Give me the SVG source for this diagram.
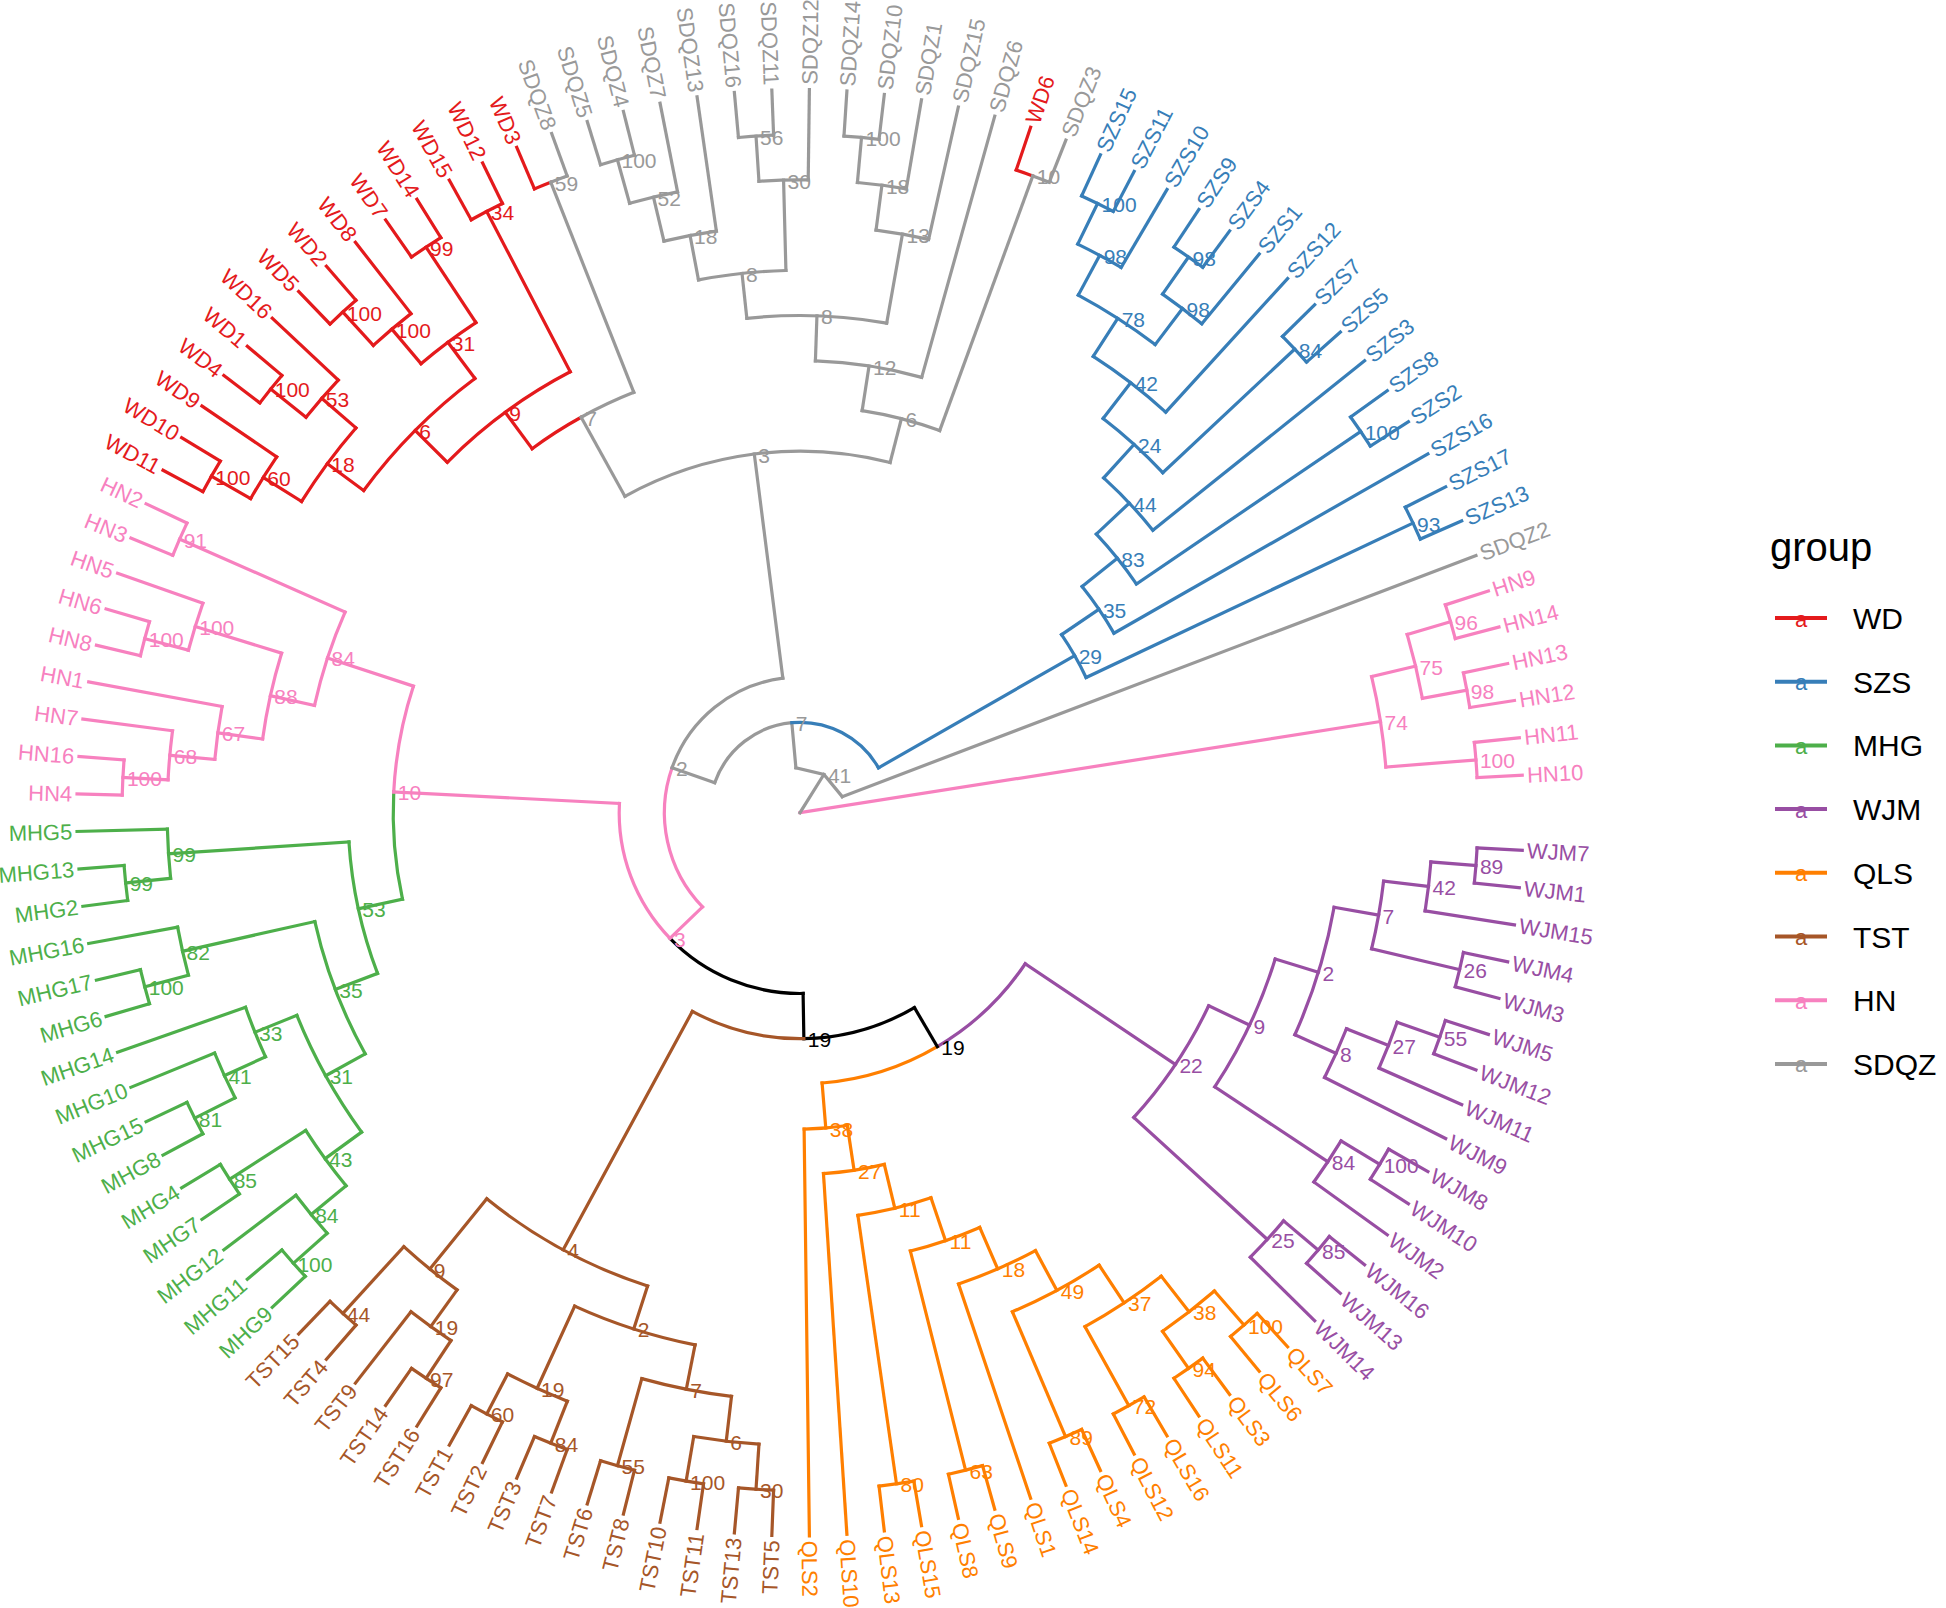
<svg xmlns="http://www.w3.org/2000/svg" width="1946" height="1608" viewBox="0 0 1946 1608">
<style>
.e line,.e circle,.e polyline{fill:none;stroke-width:3.2;stroke-linecap:square;stroke-linejoin:miter}
.r{stroke:#E41A1C}.b{stroke:#377EB8}.g{stroke:#4DAF4A}.p{stroke:#984EA3}.o{stroke:#FF7F00}.t{stroke:#A65628}.h{stroke:#F781BF}.s{stroke:#999999}.k{stroke:#000000}
text{font-family:"Liberation Sans",Arial,Helvetica,sans-serif}
.tl text{font-size:22px}
.nl text{font-size:21px}
.L{text-anchor:end}
.cr{fill:#E41A1C}.cb{fill:#377EB8}.cg{fill:#4DAF4A}.cp{fill:#984EA3}.co{fill:#FF7F00}.ct{fill:#A65628}.ch{fill:#F781BF}.cs{fill:#999999}.ck{fill:#000000}
</style>
<rect width="1946" height="1608" fill="#ffffff"/>
<g id="connectors" class="e" transform="translate(800,812.7)">
<g class="p">
<circle r="678" pathLength="360" stroke-dasharray="2.9752 999" transform="rotate(2.9752)"/>
<circle r="632.8" pathLength="360" stroke-dasharray="4.4628 999" transform="rotate(4.4628)"/>
<circle r="678" pathLength="360" stroke-dasharray="2.9752 999" transform="rotate(11.9008)"/>
<circle r="587.6" pathLength="360" stroke-dasharray="6.6942 999" transform="rotate(6.6942)"/>
<circle r="678" pathLength="360" stroke-dasharray="2.9752 999" transform="rotate(17.8512)"/>
<circle r="632.8" pathLength="360" stroke-dasharray="4.4629 999" transform="rotate(19.3388)"/>
<circle r="587.6" pathLength="360" stroke-dasharray="5.2067 999" transform="rotate(21.5702)"/>
<circle r="542.4" pathLength="360" stroke-dasharray="14.1323 999" transform="rotate(10.0413)"/>
<circle r="678" pathLength="360" stroke-dasharray="2.9752 999" transform="rotate(29.7521)"/>
<circle r="632.8" pathLength="360" stroke-dasharray="4.4628 999" transform="rotate(31.2397)"/>
<circle r="497.2" pathLength="360" stroke-dasharray="16.3637 999" transform="rotate(17.1074)"/>
<circle r="678" pathLength="360" stroke-dasharray="2.9752 999" transform="rotate(38.6777)"/>
<circle r="632.8" pathLength="360" stroke-dasharray="4.4628 999" transform="rotate(40.1653)"/>
<circle r="452" pathLength="360" stroke-dasharray="17.1074 999" transform="rotate(25.2893)"/>
<circle r="271.2" pathLength="360" stroke-dasharray="25.7425 999" transform="rotate(33.8430)"/>
<line x1="678" x2="723.2" transform="rotate(2.9752)"/>
<line x1="678" x2="723.2" transform="rotate(5.9504)"/>
<line x1="632.8" x2="723.2" transform="rotate(8.9256)"/>
<line x1="678" x2="723.2" transform="rotate(11.9008)"/>
<line x1="678" x2="723.2" transform="rotate(14.8760)"/>
<line x1="678" x2="723.2" transform="rotate(17.8512)"/>
<line x1="678" x2="723.2" transform="rotate(20.8264)"/>
<line x1="632.8" x2="723.2" transform="rotate(23.8017)"/>
<line x1="587.6" x2="723.2" transform="rotate(26.7769)"/>
<line x1="678" x2="723.2" transform="rotate(29.7521)"/>
<line x1="678" x2="723.2" transform="rotate(32.7273)"/>
<line x1="632.8" x2="723.2" transform="rotate(35.7025)"/>
<line x1="678" x2="723.2" transform="rotate(38.6777)"/>
<line x1="678" x2="723.2" transform="rotate(41.6529)"/>
<line x1="632.8" x2="723.2" transform="rotate(44.6281)"/>
<line x1="632.8" x2="678" transform="rotate(4.4628)"/>
<line x1="587.6" x2="632.8" transform="rotate(6.6942)"/>
<line x1="587.6" x2="678" transform="rotate(13.3884)"/>
<line x1="542.4" x2="587.6" transform="rotate(10.0413)"/>
<line x1="632.8" x2="678" transform="rotate(19.3388)"/>
<line x1="587.6" x2="632.8" transform="rotate(21.5702)"/>
<line x1="542.4" x2="587.6" transform="rotate(24.1736)"/>
<line x1="497.2" x2="542.4" transform="rotate(17.1074)"/>
<line x1="632.8" x2="678" transform="rotate(31.2397)"/>
<line x1="497.2" x2="632.8" transform="rotate(33.4711)"/>
<line x1="452" x2="497.2" transform="rotate(25.2893)"/>
<line x1="632.8" x2="678" transform="rotate(40.1653)"/>
<line x1="452" x2="632.8" transform="rotate(42.3967)"/>
<line x1="271.2" x2="452" transform="rotate(33.8430)"/>
</g>
<g class="o">
<circle r="678" pathLength="360" stroke-dasharray="2.9752 999" transform="rotate(47.6033)"/>
<circle r="678" pathLength="360" stroke-dasharray="2.9752 999" transform="rotate(53.5537)"/>
<circle r="632.8" pathLength="360" stroke-dasharray="5.9504 999" transform="rotate(49.0909)"/>
<circle r="678" pathLength="360" stroke-dasharray="2.9752 999" transform="rotate(59.5041)"/>
<circle r="587.6" pathLength="360" stroke-dasharray="8.9256 999" transform="rotate(52.0661)"/>
<circle r="678" pathLength="360" stroke-dasharray="2.9753 999" transform="rotate(65.4545)"/>
<circle r="542.4" pathLength="360" stroke-dasharray="10.4132 999" transform="rotate(56.5289)"/>
<circle r="497.2" pathLength="360" stroke-dasharray="9.6695 999" transform="rotate(61.7355)"/>
<circle r="678" pathLength="360" stroke-dasharray="2.9752 999" transform="rotate(74.3802)"/>
<circle r="452" pathLength="360" stroke-dasharray="9.2976 999" transform="rotate(66.5702)"/>
<circle r="678" pathLength="360" stroke-dasharray="2.9752 999" transform="rotate(80.3306)"/>
<circle r="406.8" pathLength="360" stroke-dasharray="10.5991 999" transform="rotate(71.2191)"/>
<circle r="361.6" pathLength="360" stroke-dasharray="9.7624 999" transform="rotate(76.5186)"/>
<circle r="316.4" pathLength="360" stroke-dasharray="7.8564 999" transform="rotate(81.3998)"/>
<circle r="271.2" pathLength="360" stroke-dasharray="25.7425 999" transform="rotate(59.5855)"/>
<line x1="678" x2="723.2" transform="rotate(47.6033)"/>
<line x1="678" x2="723.2" transform="rotate(50.5785)"/>
<line x1="678" x2="723.2" transform="rotate(53.5537)"/>
<line x1="678" x2="723.2" transform="rotate(56.5289)"/>
<line x1="678" x2="723.2" transform="rotate(59.5041)"/>
<line x1="678" x2="723.2" transform="rotate(62.4793)"/>
<line x1="678" x2="723.2" transform="rotate(65.4545)"/>
<line x1="678" x2="723.2" transform="rotate(68.4298)"/>
<line x1="497.2" x2="723.2" transform="rotate(71.4050)"/>
<line x1="678" x2="723.2" transform="rotate(74.3802)"/>
<line x1="678" x2="723.2" transform="rotate(77.3554)"/>
<line x1="678" x2="723.2" transform="rotate(80.3306)"/>
<line x1="678" x2="723.2" transform="rotate(83.3058)"/>
<line x1="361.6" x2="723.2" transform="rotate(86.2810)"/>
<line x1="316.4" x2="723.2" transform="rotate(89.2562)"/>
<line x1="632.8" x2="678" transform="rotate(49.0909)"/>
<line x1="632.8" x2="678" transform="rotate(55.0413)"/>
<line x1="587.6" x2="632.8" transform="rotate(52.0661)"/>
<line x1="587.6" x2="678" transform="rotate(60.9917)"/>
<line x1="542.4" x2="587.6" transform="rotate(56.5289)"/>
<line x1="542.4" x2="678" transform="rotate(66.9421)"/>
<line x1="497.2" x2="542.4" transform="rotate(61.7355)"/>
<line x1="452" x2="497.2" transform="rotate(66.5702)"/>
<line x1="452" x2="678" transform="rotate(75.8678)"/>
<line x1="406.8" x2="452" transform="rotate(71.2191)"/>
<line x1="406.8" x2="678" transform="rotate(81.8182)"/>
<line x1="361.6" x2="406.8" transform="rotate(76.5186)"/>
<line x1="316.4" x2="361.6" transform="rotate(81.3998)"/>
<line x1="271.2" x2="316.4" transform="rotate(85.3280)"/>
</g>
<g class="k">
<line x1="226" x2="271.2" transform="rotate(59.5855)"/>
<circle r="226" pathLength="360" stroke-dasharray="29.4325 999" transform="rotate(59.5855)"/>
<line x1="180.8" x2="226" transform="rotate(89.0180)"/>
<circle r="180.8" pathLength="360" stroke-dasharray="46.9553 999" transform="rotate(89.0180)"/>
</g>
<g class="t">
<circle r="678" pathLength="360" stroke-dasharray="2.9752 999" transform="rotate(92.2314)"/>
<circle r="678" pathLength="360" stroke-dasharray="2.9752 999" transform="rotate(98.1818)"/>
<circle r="632.8" pathLength="360" stroke-dasharray="5.9504 999" transform="rotate(93.7190)"/>
<circle r="678" pathLength="360" stroke-dasharray="2.9752 999" transform="rotate(104.1322)"/>
<circle r="587.6" pathLength="360" stroke-dasharray="8.9256 999" transform="rotate(96.6942)"/>
<circle r="678" pathLength="360" stroke-dasharray="2.9753 999" transform="rotate(110.0826)"/>
<circle r="678" pathLength="360" stroke-dasharray="2.9752 999" transform="rotate(116.0331)"/>
<circle r="632.8" pathLength="360" stroke-dasharray="5.9505 999" transform="rotate(111.5702)"/>
<circle r="542.4" pathLength="360" stroke-dasharray="13.3885 999" transform="rotate(101.1570)"/>
<circle r="678" pathLength="360" stroke-dasharray="2.9752 999" transform="rotate(121.9835)"/>
<circle r="632.8" pathLength="360" stroke-dasharray="4.4628 999" transform="rotate(123.4711)"/>
<circle r="678" pathLength="360" stroke-dasharray="2.9752 999" transform="rotate(130.9091)"/>
<circle r="587.6" pathLength="360" stroke-dasharray="6.6942 999" transform="rotate(125.7025)"/>
<circle r="497.2" pathLength="360" stroke-dasharray="21.1984 999" transform="rotate(107.8512)"/>
<circle r="226" pathLength="360" stroke-dasharray="29.4325 999" transform="rotate(89.0180)"/>
<line x1="678" x2="723.2" transform="rotate(92.2314)"/>
<line x1="678" x2="723.2" transform="rotate(95.2066)"/>
<line x1="678" x2="723.2" transform="rotate(98.1818)"/>
<line x1="678" x2="723.2" transform="rotate(101.1570)"/>
<line x1="678" x2="723.2" transform="rotate(104.1322)"/>
<line x1="678" x2="723.2" transform="rotate(107.1074)"/>
<line x1="678" x2="723.2" transform="rotate(110.0826)"/>
<line x1="678" x2="723.2" transform="rotate(113.0579)"/>
<line x1="678" x2="723.2" transform="rotate(116.0331)"/>
<line x1="678" x2="723.2" transform="rotate(119.0083)"/>
<line x1="678" x2="723.2" transform="rotate(121.9835)"/>
<line x1="678" x2="723.2" transform="rotate(124.9587)"/>
<line x1="632.8" x2="723.2" transform="rotate(127.9339)"/>
<line x1="678" x2="723.2" transform="rotate(130.9091)"/>
<line x1="678" x2="723.2" transform="rotate(133.8843)"/>
<line x1="632.8" x2="678" transform="rotate(93.7190)"/>
<line x1="632.8" x2="678" transform="rotate(99.6694)"/>
<line x1="587.6" x2="632.8" transform="rotate(96.6942)"/>
<line x1="587.6" x2="678" transform="rotate(105.6198)"/>
<line x1="542.4" x2="587.6" transform="rotate(101.1570)"/>
<line x1="632.8" x2="678" transform="rotate(111.5702)"/>
<line x1="632.8" x2="678" transform="rotate(117.5207)"/>
<line x1="542.4" x2="632.8" transform="rotate(114.5455)"/>
<line x1="497.2" x2="542.4" transform="rotate(107.8512)"/>
<line x1="632.8" x2="678" transform="rotate(123.4711)"/>
<line x1="587.6" x2="632.8" transform="rotate(125.7025)"/>
<line x1="587.6" x2="678" transform="rotate(132.3967)"/>
<line x1="497.2" x2="587.6" transform="rotate(129.0496)"/>
<line x1="226" x2="497.2" transform="rotate(118.4505)"/>
</g>
<g class="g">
<circle r="678" pathLength="360" stroke-dasharray="2.9752 999" transform="rotate(136.8595)"/>
<circle r="632.8" pathLength="360" stroke-dasharray="4.4628 999" transform="rotate(138.3471)"/>
<circle r="678" pathLength="360" stroke-dasharray="2.9752 999" transform="rotate(145.7851)"/>
<circle r="587.6" pathLength="360" stroke-dasharray="6.6942 999" transform="rotate(140.5785)"/>
<circle r="678" pathLength="360" stroke-dasharray="2.9752 999" transform="rotate(151.7355)"/>
<circle r="632.8" pathLength="360" stroke-dasharray="4.4629 999" transform="rotate(153.2231)"/>
<circle r="587.6" pathLength="360" stroke-dasharray="5.2067 999" transform="rotate(155.4545)"/>
<circle r="542.4" pathLength="360" stroke-dasharray="14.1323 999" transform="rotate(143.9256)"/>
<circle r="678" pathLength="360" stroke-dasharray="2.9752 999" transform="rotate(163.6364)"/>
<circle r="632.8" pathLength="360" stroke-dasharray="4.4628 999" transform="rotate(165.1240)"/>
<circle r="497.2" pathLength="360" stroke-dasharray="16.3637 999" transform="rotate(150.9917)"/>
<circle r="678" pathLength="360" stroke-dasharray="2.9752 999" transform="rotate(172.5620)"/>
<circle r="632.8" pathLength="360" stroke-dasharray="4.4628 999" transform="rotate(174.0496)"/>
<circle r="452" pathLength="360" stroke-dasharray="17.1074 999" transform="rotate(159.1736)"/>
<circle r="406.8" pathLength="360" stroke-dasharray="15.2014 999" transform="rotate(167.7273)"/>
<line x1="678" x2="723.2" transform="rotate(136.8595)"/>
<line x1="678" x2="723.2" transform="rotate(139.8347)"/>
<line x1="632.8" x2="723.2" transform="rotate(142.8099)"/>
<line x1="678" x2="723.2" transform="rotate(145.7851)"/>
<line x1="678" x2="723.2" transform="rotate(148.7603)"/>
<line x1="678" x2="723.2" transform="rotate(151.7355)"/>
<line x1="678" x2="723.2" transform="rotate(154.7107)"/>
<line x1="632.8" x2="723.2" transform="rotate(157.6860)"/>
<line x1="587.6" x2="723.2" transform="rotate(160.6612)"/>
<line x1="678" x2="723.2" transform="rotate(163.6364)"/>
<line x1="678" x2="723.2" transform="rotate(166.6116)"/>
<line x1="632.8" x2="723.2" transform="rotate(169.5868)"/>
<line x1="678" x2="723.2" transform="rotate(172.5620)"/>
<line x1="678" x2="723.2" transform="rotate(175.5372)"/>
<line x1="632.8" x2="723.2" transform="rotate(178.5124)"/>
<line x1="632.8" x2="678" transform="rotate(138.3471)"/>
<line x1="587.6" x2="632.8" transform="rotate(140.5785)"/>
<line x1="587.6" x2="678" transform="rotate(147.2727)"/>
<line x1="542.4" x2="587.6" transform="rotate(143.9256)"/>
<line x1="632.8" x2="678" transform="rotate(153.2231)"/>
<line x1="587.6" x2="632.8" transform="rotate(155.4545)"/>
<line x1="542.4" x2="587.6" transform="rotate(158.0579)"/>
<line x1="497.2" x2="542.4" transform="rotate(150.9917)"/>
<line x1="632.8" x2="678" transform="rotate(165.1240)"/>
<line x1="497.2" x2="632.8" transform="rotate(167.3554)"/>
<line x1="452" x2="497.2" transform="rotate(159.1736)"/>
<line x1="632.8" x2="678" transform="rotate(174.0496)"/>
<line x1="452" x2="632.8" transform="rotate(176.2810)"/>
<line x1="406.8" x2="452" transform="rotate(167.7273)"/>
</g>
<g class="h">
<circle r="678" pathLength="360" stroke-dasharray="2.9752 999" transform="rotate(181.4876)"/>
<circle r="632.8" pathLength="360" stroke-dasharray="4.4628 999" transform="rotate(182.9752)"/>
<circle r="587.6" pathLength="360" stroke-dasharray="5.2066 999" transform="rotate(185.2066)"/>
<circle r="678" pathLength="360" stroke-dasharray="2.9752 999" transform="rotate(193.3884)"/>
<circle r="632.8" pathLength="360" stroke-dasharray="4.4628 999" transform="rotate(194.8760)"/>
<circle r="542.4" pathLength="360" stroke-dasharray="9.2975 999" transform="rotate(187.8099)"/>
<circle r="678" pathLength="360" stroke-dasharray="2.9753 999" transform="rotate(202.3140)"/>
<circle r="497.2" pathLength="360" stroke-dasharray="11.3430 999" transform="rotate(192.4587)"/>
<circle r="406.8" pathLength="360" stroke-dasharray="15.2014 999" transform="rotate(182.9287)"/>
<circle r="180.8" pathLength="360" stroke-dasharray="46.9554 999" transform="rotate(135.9733)"/>
<circle r="135.6" pathLength="360" stroke-dasharray="63.3815 999" transform="rotate(135.9733)"/>
<circle r="678" pathLength="360" stroke-dasharray="2.9752 999" transform="rotate(342.1488)"/>
<circle r="678" pathLength="360" stroke-dasharray="2.9752 999" transform="rotate(348.0992)"/>
<circle r="632.8" pathLength="360" stroke-dasharray="5.9504 999" transform="rotate(343.6364)"/>
<circle r="678" pathLength="360" stroke-dasharray="2.9752 999" transform="rotate(354.0496)"/>
<circle r="587.6" pathLength="360" stroke-dasharray="8.9256 999" transform="rotate(346.6116)"/>
<line x1="678" x2="723.2" transform="rotate(181.4876)"/>
<line x1="678" x2="723.2" transform="rotate(184.4628)"/>
<line x1="632.8" x2="723.2" transform="rotate(187.4380)"/>
<line x1="587.6" x2="723.2" transform="rotate(190.4132)"/>
<line x1="678" x2="723.2" transform="rotate(193.3884)"/>
<line x1="678" x2="723.2" transform="rotate(196.3636)"/>
<line x1="632.8" x2="723.2" transform="rotate(199.3388)"/>
<line x1="678" x2="723.2" transform="rotate(202.3140)"/>
<line x1="678" x2="723.2" transform="rotate(205.2893)"/>
<line x1="678" x2="723.2" transform="rotate(342.1488)"/>
<line x1="678" x2="723.2" transform="rotate(345.1240)"/>
<line x1="678" x2="723.2" transform="rotate(348.0992)"/>
<line x1="678" x2="723.2" transform="rotate(351.0744)"/>
<line x1="678" x2="723.2" transform="rotate(354.0496)"/>
<line x1="678" x2="723.2" transform="rotate(357.0248)"/>
<line x1="632.8" x2="678" transform="rotate(182.9752)"/>
<line x1="587.6" x2="632.8" transform="rotate(185.2066)"/>
<line x1="542.4" x2="587.6" transform="rotate(187.8099)"/>
<line x1="632.8" x2="678" transform="rotate(194.8760)"/>
<line x1="542.4" x2="632.8" transform="rotate(197.1074)"/>
<line x1="497.2" x2="542.4" transform="rotate(192.4587)"/>
<line x1="497.2" x2="678" transform="rotate(203.8017)"/>
<line x1="406.8" x2="497.2" transform="rotate(198.1301)"/>
<line x1="180.8" x2="406.8" transform="rotate(182.9287)"/>
<line x1="135.6" x2="180.8" transform="rotate(135.9733)"/>
<line x1="632.8" x2="678" transform="rotate(343.6364)"/>
<line x1="632.8" x2="678" transform="rotate(349.5868)"/>
<line x1="587.6" x2="632.8" transform="rotate(346.6116)"/>
<line x1="587.6" x2="678" transform="rotate(355.5372)"/>
<line x1="0" x2="587.6" transform="rotate(351.0744)"/>
</g>
<g class="r">
<circle r="678" pathLength="360" stroke-dasharray="2.9752 999" transform="rotate(208.2645)"/>
<circle r="632.8" pathLength="360" stroke-dasharray="4.4628 999" transform="rotate(209.7521)"/>
<circle r="678" pathLength="360" stroke-dasharray="2.9752 999" transform="rotate(217.1901)"/>
<circle r="632.8" pathLength="360" stroke-dasharray="4.4628 999" transform="rotate(218.6777)"/>
<circle r="587.6" pathLength="360" stroke-dasharray="8.9256 999" transform="rotate(211.9835)"/>
<circle r="678" pathLength="360" stroke-dasharray="2.9752 999" transform="rotate(226.1157)"/>
<circle r="632.8" pathLength="360" stroke-dasharray="4.4628 999" transform="rotate(227.6033)"/>
<circle r="678" pathLength="360" stroke-dasharray="2.9752 999" transform="rotate(235.0413)"/>
<circle r="587.6" pathLength="360" stroke-dasharray="6.6942 999" transform="rotate(229.8347)"/>
<circle r="542.4" pathLength="360" stroke-dasharray="16.7355 999" transform="rotate(216.4463)"/>
<circle r="678" pathLength="360" stroke-dasharray="2.9752 999" transform="rotate(240.9917)"/>
<circle r="497.2" pathLength="360" stroke-dasharray="17.6652 999" transform="rotate(224.8141)"/>
<circle r="678" pathLength="360" stroke-dasharray="1.4877 999" transform="rotate(246.9421)"/>
<circle r="452" pathLength="360" stroke-dasharray="7.3915 999" transform="rotate(233.6467)"/>
<circle r="678" pathLength="360" stroke-dasharray="1.4876 999" transform="rotate(288.5950)"/>
<line x1="678" x2="723.2" transform="rotate(208.2645)"/>
<line x1="678" x2="723.2" transform="rotate(211.2397)"/>
<line x1="632.8" x2="723.2" transform="rotate(214.2149)"/>
<line x1="678" x2="723.2" transform="rotate(217.1901)"/>
<line x1="678" x2="723.2" transform="rotate(220.1653)"/>
<line x1="632.8" x2="723.2" transform="rotate(223.1405)"/>
<line x1="678" x2="723.2" transform="rotate(226.1157)"/>
<line x1="678" x2="723.2" transform="rotate(229.0909)"/>
<line x1="632.8" x2="723.2" transform="rotate(232.0661)"/>
<line x1="678" x2="723.2" transform="rotate(235.0413)"/>
<line x1="678" x2="723.2" transform="rotate(238.0165)"/>
<line x1="678" x2="723.2" transform="rotate(240.9917)"/>
<line x1="678" x2="723.2" transform="rotate(243.9669)"/>
<line x1="678" x2="723.2" transform="rotate(246.9421)"/>
<line x1="678" x2="723.2" transform="rotate(288.5950)"/>
<line x1="632.8" x2="678" transform="rotate(209.7521)"/>
<line x1="587.6" x2="632.8" transform="rotate(211.9835)"/>
<line x1="632.8" x2="678" transform="rotate(218.6777)"/>
<line x1="587.6" x2="632.8" transform="rotate(220.9091)"/>
<line x1="542.4" x2="587.6" transform="rotate(216.4463)"/>
<line x1="632.8" x2="678" transform="rotate(227.6033)"/>
<line x1="587.6" x2="632.8" transform="rotate(229.8347)"/>
<line x1="587.6" x2="678" transform="rotate(236.5289)"/>
<line x1="542.4" x2="587.6" transform="rotate(233.1818)"/>
<line x1="497.2" x2="542.4" transform="rotate(224.8141)"/>
<line x1="497.2" x2="678" transform="rotate(242.4793)"/>
<line x1="452" x2="497.2" transform="rotate(233.6467)"/>
</g>
<g class="s">
<circle r="678" pathLength="360" stroke-dasharray="1.4876 999" transform="rotate(248.4298)"/>
<circle r="452" pathLength="360" stroke-dasharray="7.3916 999" transform="rotate(241.0382)"/>
<circle r="678" pathLength="360" stroke-dasharray="2.9752 999" transform="rotate(252.8926)"/>
<circle r="632.8" pathLength="360" stroke-dasharray="4.4628 999" transform="rotate(254.3802)"/>
<circle r="587.6" pathLength="360" stroke-dasharray="5.2066 999" transform="rotate(256.6116)"/>
<circle r="678" pathLength="360" stroke-dasharray="2.9752 999" transform="rotate(264.7934)"/>
<circle r="632.8" pathLength="360" stroke-dasharray="4.4628 999" transform="rotate(266.2810)"/>
<circle r="542.4" pathLength="360" stroke-dasharray="9.2975 999" transform="rotate(259.2149)"/>
<circle r="678" pathLength="360" stroke-dasharray="2.9752 999" transform="rotate(273.7190)"/>
<circle r="632.8" pathLength="360" stroke-dasharray="4.4628 999" transform="rotate(275.2066)"/>
<circle r="587.6" pathLength="360" stroke-dasharray="5.2066 999" transform="rotate(277.4380)"/>
<circle r="497.2" pathLength="360" stroke-dasharray="16.1776 999" transform="rotate(263.8637)"/>
<circle r="452" pathLength="360" stroke-dasharray="13.6673 999" transform="rotate(271.9525)"/>
<circle r="678" pathLength="360" stroke-dasharray="1.4876 999" transform="rotate(290.0826)"/>
<circle r="406.8" pathLength="360" stroke-dasharray="11.2964 999" transform="rotate(278.7862)"/>
<circle r="361.6" pathLength="360" stroke-dasharray="43.3962 999" transform="rotate(241.0382)"/>
<circle r="135.6" pathLength="360" stroke-dasharray="63.3815 999" transform="rotate(199.3548)"/>
<circle r="90.4" pathLength="360" stroke-dasharray="65.4408 999" transform="rotate(199.3548)"/>
<polyline points="-4.10,-45.01 23.94,-38.34 42.25,-16.07"/>
<line x1="678" x2="723.2" transform="rotate(249.9174)"/>
<line x1="678" x2="723.2" transform="rotate(252.8926)"/>
<line x1="678" x2="723.2" transform="rotate(255.8678)"/>
<line x1="632.8" x2="723.2" transform="rotate(258.8430)"/>
<line x1="587.6" x2="723.2" transform="rotate(261.8182)"/>
<line x1="678" x2="723.2" transform="rotate(264.7934)"/>
<line x1="678" x2="723.2" transform="rotate(267.7686)"/>
<line x1="632.8" x2="723.2" transform="rotate(270.7438)"/>
<line x1="678" x2="723.2" transform="rotate(273.7190)"/>
<line x1="678" x2="723.2" transform="rotate(276.6942)"/>
<line x1="632.8" x2="723.2" transform="rotate(279.6694)"/>
<line x1="587.6" x2="723.2" transform="rotate(282.6446)"/>
<line x1="452" x2="723.2" transform="rotate(285.6198)"/>
<line x1="678" x2="723.2" transform="rotate(291.5702)"/>
<line x1="45.2" x2="723.2" transform="rotate(339.1736)"/>
<line x1="452" x2="678" transform="rotate(248.4298)"/>
<line x1="361.6" x2="452" transform="rotate(241.0382)"/>
<line x1="632.8" x2="678" transform="rotate(254.3802)"/>
<line x1="587.6" x2="632.8" transform="rotate(256.6116)"/>
<line x1="542.4" x2="587.6" transform="rotate(259.2149)"/>
<line x1="632.8" x2="678" transform="rotate(266.2810)"/>
<line x1="542.4" x2="632.8" transform="rotate(268.5124)"/>
<line x1="497.2" x2="542.4" transform="rotate(263.8637)"/>
<line x1="632.8" x2="678" transform="rotate(275.2066)"/>
<line x1="587.6" x2="632.8" transform="rotate(277.4380)"/>
<line x1="497.2" x2="587.6" transform="rotate(280.0413)"/>
<line x1="452" x2="497.2" transform="rotate(271.9525)"/>
<line x1="406.8" x2="452" transform="rotate(278.7862)"/>
<line x1="406.8" x2="678" transform="rotate(290.0826)"/>
<line x1="361.6" x2="406.8" transform="rotate(284.4344)"/>
<line x1="135.6" x2="361.6" transform="rotate(262.7363)"/>
<line x1="90.4" x2="135.6" transform="rotate(199.3548)"/>
<line x1="45.2" x2="90.4" transform="rotate(264.7956)"/>
<line x1="0" x2="45.2" transform="rotate(301.9846)"/>
</g>
<g class="b">
<circle r="678" pathLength="360" stroke-dasharray="2.9752 999" transform="rotate(294.5455)"/>
<circle r="632.8" pathLength="360" stroke-dasharray="4.4628 999" transform="rotate(296.0331)"/>
<circle r="678" pathLength="360" stroke-dasharray="2.9752 999" transform="rotate(303.4711)"/>
<circle r="632.8" pathLength="360" stroke-dasharray="4.4628 999" transform="rotate(304.9587)"/>
<circle r="587.6" pathLength="360" stroke-dasharray="8.9256 999" transform="rotate(298.2645)"/>
<circle r="542.4" pathLength="360" stroke-dasharray="9.6694 999" transform="rotate(302.7273)"/>
<circle r="678" pathLength="360" stroke-dasharray="2.9752 999" transform="rotate(315.3719)"/>
<circle r="497.2" pathLength="360" stroke-dasharray="9.2975 999" transform="rotate(307.5620)"/>
<circle r="452" pathLength="360" stroke-dasharray="9.1115 999" transform="rotate(312.2108)"/>
<circle r="678" pathLength="360" stroke-dasharray="2.9752 999" transform="rotate(324.2975)"/>
<circle r="406.8" pathLength="360" stroke-dasharray="9.0186 999" transform="rotate(316.7665)"/>
<circle r="361.6" pathLength="360" stroke-dasharray="8.9721 999" transform="rotate(321.2758)"/>
<circle r="678" pathLength="360" stroke-dasharray="2.9752 999" transform="rotate(333.2231)"/>
<circle r="316.4" pathLength="360" stroke-dasharray="8.9488 999" transform="rotate(325.7619)"/>
<circle r="90.4" pathLength="360" stroke-dasharray="65.4407 999" transform="rotate(264.7956)"/>
<line x1="678" x2="723.2" transform="rotate(294.5455)"/>
<line x1="678" x2="723.2" transform="rotate(297.5207)"/>
<line x1="632.8" x2="723.2" transform="rotate(300.4959)"/>
<line x1="678" x2="723.2" transform="rotate(303.4711)"/>
<line x1="678" x2="723.2" transform="rotate(306.4463)"/>
<line x1="632.8" x2="723.2" transform="rotate(309.4215)"/>
<line x1="542.4" x2="723.2" transform="rotate(312.3967)"/>
<line x1="678" x2="723.2" transform="rotate(315.3719)"/>
<line x1="678" x2="723.2" transform="rotate(318.3471)"/>
<line x1="452" x2="723.2" transform="rotate(321.3223)"/>
<line x1="678" x2="723.2" transform="rotate(324.2975)"/>
<line x1="678" x2="723.2" transform="rotate(327.2727)"/>
<line x1="361.6" x2="723.2" transform="rotate(330.2479)"/>
<line x1="678" x2="723.2" transform="rotate(333.2231)"/>
<line x1="678" x2="723.2" transform="rotate(336.1983)"/>
<line x1="632.8" x2="678" transform="rotate(296.0331)"/>
<line x1="587.6" x2="632.8" transform="rotate(298.2645)"/>
<line x1="632.8" x2="678" transform="rotate(304.9587)"/>
<line x1="587.6" x2="632.8" transform="rotate(307.1901)"/>
<line x1="542.4" x2="587.6" transform="rotate(302.7273)"/>
<line x1="497.2" x2="542.4" transform="rotate(307.5620)"/>
<line x1="497.2" x2="678" transform="rotate(316.8595)"/>
<line x1="452" x2="497.2" transform="rotate(312.2108)"/>
<line x1="406.8" x2="452" transform="rotate(316.7665)"/>
<line x1="406.8" x2="678" transform="rotate(325.7851)"/>
<line x1="361.6" x2="406.8" transform="rotate(321.2758)"/>
<line x1="316.4" x2="361.6" transform="rotate(325.7619)"/>
<line x1="316.4" x2="678" transform="rotate(334.7107)"/>
<line x1="90.4" x2="316.4" transform="rotate(330.2363)"/>
</g>
</g>
<g class="tl" transform="translate(800,812.7)">
<g id="tip_WJM7"><text class="cp" transform="rotate(2.9752)" x="728" y="7.8">WJM7</text></g>
<g id="tip_WJM1"><text class="cp" transform="rotate(5.9504)" x="728" y="7.8">WJM1</text></g>
<g id="tip_WJM15"><text class="cp" transform="rotate(8.9256)" x="728" y="7.8">WJM15</text></g>
<g id="tip_WJM4"><text class="cp" transform="rotate(11.9008)" x="728" y="7.8">WJM4</text></g>
<g id="tip_WJM3"><text class="cp" transform="rotate(14.8760)" x="728" y="7.8">WJM3</text></g>
<g id="tip_WJM5"><text class="cp" transform="rotate(17.8512)" x="728" y="7.8">WJM5</text></g>
<g id="tip_WJM12"><text class="cp" transform="rotate(20.8264)" x="728" y="7.8">WJM12</text></g>
<g id="tip_WJM11"><text class="cp" transform="rotate(23.8017)" x="728" y="7.8">WJM11</text></g>
<g id="tip_WJM9"><text class="cp" transform="rotate(26.7769)" x="728" y="7.8">WJM9</text></g>
<g id="tip_WJM8"><text class="cp" transform="rotate(29.7521)" x="728" y="7.8">WJM8</text></g>
<g id="tip_WJM10"><text class="cp" transform="rotate(32.7273)" x="728" y="7.8">WJM10</text></g>
<g id="tip_WJM2"><text class="cp" transform="rotate(35.7025)" x="728" y="7.8">WJM2</text></g>
<g id="tip_WJM16"><text class="cp" transform="rotate(38.6777)" x="728" y="7.8">WJM16</text></g>
<g id="tip_WJM13"><text class="cp" transform="rotate(41.6529)" x="728" y="7.8">WJM13</text></g>
<g id="tip_WJM14"><text class="cp" transform="rotate(44.6281)" x="728" y="7.8">WJM14</text></g>
<g id="tip_QLS7"><text class="co" transform="rotate(47.6033)" x="728" y="7.8">QLS7</text></g>
<g id="tip_QLS6"><text class="co" transform="rotate(50.5785)" x="728" y="7.8">QLS6</text></g>
<g id="tip_QLS3"><text class="co" transform="rotate(53.5537)" x="728" y="7.8">QLS3</text></g>
<g id="tip_QLS11"><text class="co" transform="rotate(56.5289)" x="728" y="7.8">QLS11</text></g>
<g id="tip_QLS16"><text class="co" transform="rotate(59.5041)" x="728" y="7.8">QLS16</text></g>
<g id="tip_QLS12"><text class="co" transform="rotate(62.4793)" x="728" y="7.8">QLS12</text></g>
<g id="tip_QLS4"><text class="co" transform="rotate(65.4545)" x="728" y="7.8">QLS4</text></g>
<g id="tip_QLS14"><text class="co" transform="rotate(68.4298)" x="728" y="7.8">QLS14</text></g>
<g id="tip_QLS1"><text class="co" transform="rotate(71.4050)" x="728" y="7.8">QLS1</text></g>
<g id="tip_QLS9"><text class="co" transform="rotate(74.3802)" x="728" y="7.8">QLS9</text></g>
<g id="tip_QLS8"><text class="co" transform="rotate(77.3554)" x="728" y="7.8">QLS8</text></g>
<g id="tip_QLS15"><text class="co" transform="rotate(80.3306)" x="728" y="7.8">QLS15</text></g>
<g id="tip_QLS13"><text class="co" transform="rotate(83.3058)" x="728" y="7.8">QLS13</text></g>
<g id="tip_QLS10"><text class="co" transform="rotate(86.2810)" x="728" y="7.8">QLS10</text></g>
<g id="tip_QLS2"><text class="co" transform="rotate(89.2562)" x="728" y="7.8">QLS2</text></g>
<g id="tip_TST5"><text class="ct L" transform="rotate(-87.7686)" x="-728" y="7.8">TST5</text></g>
<g id="tip_TST13"><text class="ct L" transform="rotate(-84.7934)" x="-728" y="7.8">TST13</text></g>
<g id="tip_TST11"><text class="ct L" transform="rotate(-81.8182)" x="-728" y="7.8">TST11</text></g>
<g id="tip_TST10"><text class="ct L" transform="rotate(-78.8430)" x="-728" y="7.8">TST10</text></g>
<g id="tip_TST8"><text class="ct L" transform="rotate(-75.8678)" x="-728" y="7.8">TST8</text></g>
<g id="tip_TST6"><text class="ct L" transform="rotate(-72.8926)" x="-728" y="7.8">TST6</text></g>
<g id="tip_TST7"><text class="ct L" transform="rotate(-69.9174)" x="-728" y="7.8">TST7</text></g>
<g id="tip_TST3"><text class="ct L" transform="rotate(-66.9421)" x="-728" y="7.8">TST3</text></g>
<g id="tip_TST2"><text class="ct L" transform="rotate(-63.9669)" x="-728" y="7.8">TST2</text></g>
<g id="tip_TST1"><text class="ct L" transform="rotate(-60.9917)" x="-728" y="7.8">TST1</text></g>
<g id="tip_TST16"><text class="ct L" transform="rotate(-58.0165)" x="-728" y="7.8">TST16</text></g>
<g id="tip_TST14"><text class="ct L" transform="rotate(-55.0413)" x="-728" y="7.8">TST14</text></g>
<g id="tip_TST9"><text class="ct L" transform="rotate(-52.0661)" x="-728" y="7.8">TST9</text></g>
<g id="tip_TST4"><text class="ct L" transform="rotate(-49.0909)" x="-728" y="7.8">TST4</text></g>
<g id="tip_TST15"><text class="ct L" transform="rotate(-46.1157)" x="-728" y="7.8">TST15</text></g>
<g id="tip_MHG9"><text class="cg L" transform="rotate(-43.1405)" x="-728" y="7.8">MHG9</text></g>
<g id="tip_MHG11"><text class="cg L" transform="rotate(-40.1653)" x="-728" y="7.8">MHG11</text></g>
<g id="tip_MHG12"><text class="cg L" transform="rotate(-37.1901)" x="-728" y="7.8">MHG12</text></g>
<g id="tip_MHG7"><text class="cg L" transform="rotate(-34.2149)" x="-728" y="7.8">MHG7</text></g>
<g id="tip_MHG4"><text class="cg L" transform="rotate(-31.2397)" x="-728" y="7.8">MHG4</text></g>
<g id="tip_MHG8"><text class="cg L" transform="rotate(-28.2645)" x="-728" y="7.8">MHG8</text></g>
<g id="tip_MHG15"><text class="cg L" transform="rotate(-25.2893)" x="-728" y="7.8">MHG15</text></g>
<g id="tip_MHG10"><text class="cg L" transform="rotate(-22.3140)" x="-728" y="7.8">MHG10</text></g>
<g id="tip_MHG14"><text class="cg L" transform="rotate(-19.3388)" x="-728" y="7.8">MHG14</text></g>
<g id="tip_MHG6"><text class="cg L" transform="rotate(-16.3636)" x="-728" y="7.8">MHG6</text></g>
<g id="tip_MHG17"><text class="cg L" transform="rotate(-13.3884)" x="-728" y="7.8">MHG17</text></g>
<g id="tip_MHG16"><text class="cg L" transform="rotate(-10.4132)" x="-728" y="7.8">MHG16</text></g>
<g id="tip_MHG2"><text class="cg L" transform="rotate(-7.4380)" x="-728" y="7.8">MHG2</text></g>
<g id="tip_MHG13"><text class="cg L" transform="rotate(-4.4628)" x="-728" y="7.8">MHG13</text></g>
<g id="tip_MHG5"><text class="cg L" transform="rotate(-1.4876)" x="-728" y="7.8">MHG5</text></g>
<g id="tip_HN4"><text class="ch L" transform="rotate(1.4876)" x="-728" y="7.8">HN4</text></g>
<g id="tip_HN16"><text class="ch L" transform="rotate(4.4628)" x="-728" y="7.8">HN16</text></g>
<g id="tip_HN7"><text class="ch L" transform="rotate(7.4380)" x="-728" y="7.8">HN7</text></g>
<g id="tip_HN1"><text class="ch L" transform="rotate(10.4132)" x="-728" y="7.8">HN1</text></g>
<g id="tip_HN8"><text class="ch L" transform="rotate(13.3884)" x="-728" y="7.8">HN8</text></g>
<g id="tip_HN6"><text class="ch L" transform="rotate(16.3636)" x="-728" y="7.8">HN6</text></g>
<g id="tip_HN5"><text class="ch L" transform="rotate(19.3388)" x="-728" y="7.8">HN5</text></g>
<g id="tip_HN3"><text class="ch L" transform="rotate(22.3140)" x="-728" y="7.8">HN3</text></g>
<g id="tip_HN2"><text class="ch L" transform="rotate(25.2893)" x="-728" y="7.8">HN2</text></g>
<g id="tip_WD11"><text class="cr L" transform="rotate(28.2645)" x="-728" y="7.8">WD11</text></g>
<g id="tip_WD10"><text class="cr L" transform="rotate(31.2397)" x="-728" y="7.8">WD10</text></g>
<g id="tip_WD9"><text class="cr L" transform="rotate(34.2149)" x="-728" y="7.8">WD9</text></g>
<g id="tip_WD4"><text class="cr L" transform="rotate(37.1901)" x="-728" y="7.8">WD4</text></g>
<g id="tip_WD1"><text class="cr L" transform="rotate(40.1653)" x="-728" y="7.8">WD1</text></g>
<g id="tip_WD16"><text class="cr L" transform="rotate(43.1405)" x="-728" y="7.8">WD16</text></g>
<g id="tip_WD5"><text class="cr L" transform="rotate(46.1157)" x="-728" y="7.8">WD5</text></g>
<g id="tip_WD2"><text class="cr L" transform="rotate(49.0909)" x="-728" y="7.8">WD2</text></g>
<g id="tip_WD8"><text class="cr L" transform="rotate(52.0661)" x="-728" y="7.8">WD8</text></g>
<g id="tip_WD7"><text class="cr L" transform="rotate(55.0413)" x="-728" y="7.8">WD7</text></g>
<g id="tip_WD14"><text class="cr L" transform="rotate(58.0165)" x="-728" y="7.8">WD14</text></g>
<g id="tip_WD15"><text class="cr L" transform="rotate(60.9917)" x="-728" y="7.8">WD15</text></g>
<g id="tip_WD12"><text class="cr L" transform="rotate(63.9669)" x="-728" y="7.8">WD12</text></g>
<g id="tip_WD3"><text class="cr L" transform="rotate(66.9421)" x="-728" y="7.8">WD3</text></g>
<g id="tip_SDQZ8"><text class="cs L" transform="rotate(69.9174)" x="-728" y="7.8">SDQZ8</text></g>
<g id="tip_SDQZ5"><text class="cs L" transform="rotate(72.8926)" x="-728" y="7.8">SDQZ5</text></g>
<g id="tip_SDQZ4"><text class="cs L" transform="rotate(75.8678)" x="-728" y="7.8">SDQZ4</text></g>
<g id="tip_SDQZ7"><text class="cs L" transform="rotate(78.8430)" x="-728" y="7.8">SDQZ7</text></g>
<g id="tip_SDQZ13"><text class="cs L" transform="rotate(81.8182)" x="-728" y="7.8">SDQZ13</text></g>
<g id="tip_SDQZ16"><text class="cs L" transform="rotate(84.7934)" x="-728" y="7.8">SDQZ16</text></g>
<g id="tip_SDQZ11"><text class="cs L" transform="rotate(87.7686)" x="-728" y="7.8">SDQZ11</text></g>
<g id="tip_SDQZ12"><text class="cs" transform="rotate(270.7438)" x="728" y="7.8">SDQZ12</text></g>
<g id="tip_SDQZ14"><text class="cs" transform="rotate(273.7190)" x="728" y="7.8">SDQZ14</text></g>
<g id="tip_SDQZ10"><text class="cs" transform="rotate(276.6942)" x="728" y="7.8">SDQZ10</text></g>
<g id="tip_SDQZ1"><text class="cs" transform="rotate(279.6694)" x="728" y="7.8">SDQZ1</text></g>
<g id="tip_SDQZ15"><text class="cs" transform="rotate(282.6446)" x="728" y="7.8">SDQZ15</text></g>
<g id="tip_SDQZ6"><text class="cs" transform="rotate(285.6198)" x="728" y="7.8">SDQZ6</text></g>
<g id="tip_WD6"><text class="cr" transform="rotate(288.5950)" x="728" y="7.8">WD6</text></g>
<g id="tip_SDQZ3"><text class="cs" transform="rotate(291.5702)" x="728" y="7.8">SDQZ3</text></g>
<g id="tip_SZS15"><text class="cb" transform="rotate(294.5455)" x="728" y="7.8">SZS15</text></g>
<g id="tip_SZS11"><text class="cb" transform="rotate(297.5207)" x="728" y="7.8">SZS11</text></g>
<g id="tip_SZS10"><text class="cb" transform="rotate(300.4959)" x="728" y="7.8">SZS10</text></g>
<g id="tip_SZS9"><text class="cb" transform="rotate(303.4711)" x="728" y="7.8">SZS9</text></g>
<g id="tip_SZS4"><text class="cb" transform="rotate(306.4463)" x="728" y="7.8">SZS4</text></g>
<g id="tip_SZS1"><text class="cb" transform="rotate(309.4215)" x="728" y="7.8">SZS1</text></g>
<g id="tip_SZS12"><text class="cb" transform="rotate(312.3967)" x="728" y="7.8">SZS12</text></g>
<g id="tip_SZS7"><text class="cb" transform="rotate(315.3719)" x="728" y="7.8">SZS7</text></g>
<g id="tip_SZS5"><text class="cb" transform="rotate(318.3471)" x="728" y="7.8">SZS5</text></g>
<g id="tip_SZS3"><text class="cb" transform="rotate(321.3223)" x="728" y="7.8">SZS3</text></g>
<g id="tip_SZS8"><text class="cb" transform="rotate(324.2975)" x="728" y="7.8">SZS8</text></g>
<g id="tip_SZS2"><text class="cb" transform="rotate(327.2727)" x="728" y="7.8">SZS2</text></g>
<g id="tip_SZS16"><text class="cb" transform="rotate(330.2479)" x="728" y="7.8">SZS16</text></g>
<g id="tip_SZS17"><text class="cb" transform="rotate(333.2231)" x="728" y="7.8">SZS17</text></g>
<g id="tip_SZS13"><text class="cb" transform="rotate(336.1983)" x="728" y="7.8">SZS13</text></g>
<g id="tip_SDQZ2"><text class="cs" transform="rotate(339.1736)" x="728" y="7.8">SDQZ2</text></g>
<g id="tip_HN9"><text class="ch" transform="rotate(342.1488)" x="728" y="7.8">HN9</text></g>
<g id="tip_HN14"><text class="ch" transform="rotate(345.1240)" x="728" y="7.8">HN14</text></g>
<g id="tip_HN13"><text class="ch" transform="rotate(348.0992)" x="728" y="7.8">HN13</text></g>
<g id="tip_HN12"><text class="ch" transform="rotate(351.0744)" x="728" y="7.8">HN12</text></g>
<g id="tip_HN11"><text class="ch" transform="rotate(354.0496)" x="728" y="7.8">HN11</text></g>
<g id="tip_HN10"><text class="ch" transform="rotate(357.0248)" x="728" y="7.8">HN10</text></g>
</g>
<g class="nl" transform="translate(800,812.7)">
<g id="n_w89"><text class="cp" transform="rotate(4.4628) translate(678) rotate(-4.4628)" x="4" y="8.5">89</text></g>
<g id="n_w42"><text class="cp" transform="rotate(6.6942) translate(632.8) rotate(-6.6942)" x="4" y="8.5">42</text></g>
<g id="n_w26"><text class="cp" transform="rotate(13.3884) translate(678) rotate(-13.3884)" x="4" y="8.5">26</text></g>
<g id="n_w7"><text class="cp" transform="rotate(10.0413) translate(587.6) rotate(-10.0413)" x="4" y="8.5">7</text></g>
<g id="n_w55"><text class="cp" transform="rotate(19.3388) translate(678) rotate(-19.3388)" x="4" y="8.5">55</text></g>
<g id="n_w27"><text class="cp" transform="rotate(21.5702) translate(632.8) rotate(-21.5702)" x="4" y="8.5">27</text></g>
<g id="n_w8"><text class="cp" transform="rotate(24.1736) translate(587.6) rotate(-24.1736)" x="4" y="8.5">8</text></g>
<g id="n_w2"><text class="cp" transform="rotate(17.1074) translate(542.4) rotate(-17.1074)" x="4" y="8.5">2</text></g>
<g id="n_w100"><text class="cp" transform="rotate(31.2397) translate(678) rotate(-31.2397)" x="4" y="8.5">100</text></g>
<g id="n_w84"><text class="cp" transform="rotate(33.4711) translate(632.8) rotate(-33.4711)" x="4" y="8.5">84</text></g>
<g id="n_w9"><text class="cp" transform="rotate(25.2893) translate(497.2) rotate(-25.2893)" x="4" y="8.5">9</text></g>
<g id="n_w85"><text class="cp" transform="rotate(40.1653) translate(678) rotate(-40.1653)" x="4" y="8.5">85</text></g>
<g id="n_w25"><text class="cp" transform="rotate(42.3967) translate(632.8) rotate(-42.3967)" x="4" y="8.5">25</text></g>
<g id="n_w22"><text class="cp" transform="rotate(33.8430) translate(452) rotate(-33.8430)" x="4" y="8.5">22</text></g>
<g id="n_q100"><text class="co" transform="rotate(49.0909) translate(678) rotate(-49.0909)" x="4" y="8.5">100</text></g>
<g id="n_q94"><text class="co" transform="rotate(55.0413) translate(678) rotate(-55.0413)" x="4" y="8.5">94</text></g>
<g id="n_q38a"><text class="co" transform="rotate(52.0661) translate(632.8) rotate(-52.0661)" x="4" y="8.5">38</text></g>
<g id="n_q72"><text class="co" transform="rotate(60.9917) translate(678) rotate(-60.9917)" x="4" y="8.5">72</text></g>
<g id="n_q37"><text class="co" transform="rotate(56.5289) translate(587.6) rotate(-56.5289)" x="4" y="8.5">37</text></g>
<g id="n_q89"><text class="co" transform="rotate(66.9421) translate(678) rotate(-66.9421)" x="4" y="8.5">89</text></g>
<g id="n_q49"><text class="co" transform="rotate(61.7355) translate(542.4) rotate(-61.7355)" x="4" y="8.5">49</text></g>
<g id="n_q18"><text class="co" transform="rotate(66.5702) translate(497.2) rotate(-66.5702)" x="4" y="8.5">18</text></g>
<g id="n_q63"><text class="co" transform="rotate(75.8678) translate(678) rotate(-75.8678)" x="4" y="8.5">63</text></g>
<g id="n_q11a"><text class="co" transform="rotate(71.2191) translate(452) rotate(-71.2191)" x="4" y="8.5">11</text></g>
<g id="n_q80"><text class="co" transform="rotate(81.8182) translate(678) rotate(-81.8182)" x="4" y="8.5">80</text></g>
<g id="n_q11b"><text class="co" transform="rotate(76.5186) translate(406.8) rotate(-76.5186)" x="4" y="8.5">11</text></g>
<g id="n_q27"><text class="co" transform="rotate(81.3998) translate(361.6) rotate(-81.3998)" x="4" y="8.5">27</text></g>
<g id="n_q38b"><text class="co" transform="rotate(85.3280) translate(316.4) rotate(-85.3280)" x="4" y="8.5">38</text></g>
<g id="n_k19b"><text class="ck" transform="rotate(59.5855) translate(271.2) rotate(-59.5855)" x="4" y="8.5">19</text></g>
<g id="n_k19a"><text class="ck" transform="rotate(89.0180) translate(226) rotate(-89.0180)" x="4" y="8.5">19</text></g>
<g id="n_t30"><text class="ct" transform="rotate(93.7190) translate(678) rotate(-93.7190)" x="4" y="8.5">30</text></g>
<g id="n_t100"><text class="ct" transform="rotate(99.6694) translate(678) rotate(-99.6694)" x="4" y="8.5">100</text></g>
<g id="n_t6"><text class="ct" transform="rotate(96.6942) translate(632.8) rotate(-96.6942)" x="4" y="8.5">6</text></g>
<g id="n_t55"><text class="ct" transform="rotate(105.6198) translate(678) rotate(-105.6198)" x="4" y="8.5">55</text></g>
<g id="n_t7"><text class="ct" transform="rotate(101.1570) translate(587.6) rotate(-101.1570)" x="4" y="8.5">7</text></g>
<g id="n_t84"><text class="ct" transform="rotate(111.5702) translate(678) rotate(-111.5702)" x="4" y="8.5">84</text></g>
<g id="n_t60"><text class="ct" transform="rotate(117.5207) translate(678) rotate(-117.5207)" x="4" y="8.5">60</text></g>
<g id="n_t19a"><text class="ct" transform="rotate(114.5455) translate(632.8) rotate(-114.5455)" x="4" y="8.5">19</text></g>
<g id="n_t2"><text class="ct" transform="rotate(107.8512) translate(542.4) rotate(-107.8512)" x="4" y="8.5">2</text></g>
<g id="n_t97"><text class="ct" transform="rotate(123.4711) translate(678) rotate(-123.4711)" x="4" y="8.5">97</text></g>
<g id="n_t19b"><text class="ct" transform="rotate(125.7025) translate(632.8) rotate(-125.7025)" x="4" y="8.5">19</text></g>
<g id="n_t44"><text class="ct" transform="rotate(132.3967) translate(678) rotate(-132.3967)" x="4" y="8.5">44</text></g>
<g id="n_t9"><text class="ct" transform="rotate(129.0496) translate(587.6) rotate(-129.0496)" x="4" y="8.5">9</text></g>
<g id="n_t4"><text class="ct" transform="rotate(118.4505) translate(497.2) rotate(-118.4505)" x="4" y="8.5">4</text></g>
<g id="n_m100a"><text class="cg" transform="rotate(138.3471) translate(678) rotate(-138.3471)" x="4" y="8.5">100</text></g>
<g id="n_m84"><text class="cg" transform="rotate(140.5785) translate(632.8) rotate(-140.5785)" x="4" y="8.5">84</text></g>
<g id="n_m85"><text class="cg" transform="rotate(147.2727) translate(678) rotate(-147.2727)" x="4" y="8.5">85</text></g>
<g id="n_m43"><text class="cg" transform="rotate(143.9256) translate(587.6) rotate(-143.9256)" x="4" y="8.5">43</text></g>
<g id="n_m81"><text class="cg" transform="rotate(153.2231) translate(678) rotate(-153.2231)" x="4" y="8.5">81</text></g>
<g id="n_m41"><text class="cg" transform="rotate(155.4545) translate(632.8) rotate(-155.4545)" x="4" y="8.5">41</text></g>
<g id="n_m33"><text class="cg" transform="rotate(158.0579) translate(587.6) rotate(-158.0579)" x="4" y="8.5">33</text></g>
<g id="n_m31"><text class="cg" transform="rotate(150.9917) translate(542.4) rotate(-150.9917)" x="4" y="8.5">31</text></g>
<g id="n_m100b"><text class="cg" transform="rotate(165.1240) translate(678) rotate(-165.1240)" x="4" y="8.5">100</text></g>
<g id="n_m82"><text class="cg" transform="rotate(167.3554) translate(632.8) rotate(-167.3554)" x="4" y="8.5">82</text></g>
<g id="n_m35"><text class="cg" transform="rotate(159.1736) translate(497.2) rotate(-159.1736)" x="4" y="8.5">35</text></g>
<g id="n_m99a"><text class="cg" transform="rotate(174.0496) translate(678) rotate(-174.0496)" x="4" y="8.5">99</text></g>
<g id="n_m99b"><text class="cg" transform="rotate(176.2810) translate(632.8) rotate(-176.2810)" x="4" y="8.5">99</text></g>
<g id="n_m53"><text class="cg" transform="rotate(167.7273) translate(452) rotate(-167.7273)" x="4" y="8.5">53</text></g>
<g id="n_h100a"><text class="ch" transform="rotate(182.9752) translate(678) rotate(-182.9752)" x="4" y="8.5">100</text></g>
<g id="n_h68"><text class="ch" transform="rotate(185.2066) translate(632.8) rotate(-185.2066)" x="4" y="8.5">68</text></g>
<g id="n_h67"><text class="ch" transform="rotate(187.8099) translate(587.6) rotate(-187.8099)" x="4" y="8.5">67</text></g>
<g id="n_h100b"><text class="ch" transform="rotate(194.8760) translate(678) rotate(-194.8760)" x="4" y="8.5">100</text></g>
<g id="n_h100c"><text class="ch" transform="rotate(197.1074) translate(632.8) rotate(-197.1074)" x="4" y="8.5">100</text></g>
<g id="n_h88"><text class="ch" transform="rotate(192.4587) translate(542.4) rotate(-192.4587)" x="4" y="8.5">88</text></g>
<g id="n_h91"><text class="ch" transform="rotate(203.8017) translate(678) rotate(-203.8017)" x="4" y="8.5">91</text></g>
<g id="n_h84"><text class="ch" transform="rotate(198.1301) translate(497.2) rotate(-198.1301)" x="4" y="8.5">84</text></g>
<g id="n_h10"><text class="ch" transform="rotate(182.9287) translate(406.8) rotate(-182.9287)" x="4" y="8.5">10</text></g>
<g id="n_h3"><text class="ch" transform="rotate(135.9733) translate(180.8) rotate(-135.9733)" x="4" y="8.5">3</text></g>
<g id="n_h96"><text class="ch" transform="rotate(343.6364) translate(678) rotate(-343.6364)" x="4" y="8.5">96</text></g>
<g id="n_h98"><text class="ch" transform="rotate(349.5868) translate(678) rotate(-349.5868)" x="4" y="8.5">98</text></g>
<g id="n_h75"><text class="ch" transform="rotate(346.6116) translate(632.8) rotate(-346.6116)" x="4" y="8.5">75</text></g>
<g id="n_h100d"><text class="ch" transform="rotate(355.5372) translate(678) rotate(-355.5372)" x="4" y="8.5">100</text></g>
<g id="n_h74"><text class="ch" transform="rotate(351.0744) translate(587.6) rotate(-351.0744)" x="4" y="8.5">74</text></g>
<g id="n_r100a"><text class="cr" transform="rotate(209.7521) translate(678) rotate(-209.7521)" x="4" y="8.5">100</text></g>
<g id="n_r60"><text class="cr" transform="rotate(211.9835) translate(632.8) rotate(-211.9835)" x="4" y="8.5">60</text></g>
<g id="n_r100b"><text class="cr" transform="rotate(218.6777) translate(678) rotate(-218.6777)" x="4" y="8.5">100</text></g>
<g id="n_r53"><text class="cr" transform="rotate(220.9091) translate(632.8) rotate(-220.9091)" x="4" y="8.5">53</text></g>
<g id="n_r18"><text class="cr" transform="rotate(216.4463) translate(587.6) rotate(-216.4463)" x="4" y="8.5">18</text></g>
<g id="n_r100c"><text class="cr" transform="rotate(227.6033) translate(678) rotate(-227.6033)" x="4" y="8.5">100</text></g>
<g id="n_r100d"><text class="cr" transform="rotate(229.8347) translate(632.8) rotate(-229.8347)" x="4" y="8.5">100</text></g>
<g id="n_r99"><text class="cr" transform="rotate(236.5289) translate(678) rotate(-236.5289)" x="4" y="8.5">99</text></g>
<g id="n_r31"><text class="cr" transform="rotate(233.1818) translate(587.6) rotate(-233.1818)" x="4" y="8.5">31</text></g>
<g id="n_r6"><text class="cr" transform="rotate(224.8141) translate(542.4) rotate(-224.8141)" x="4" y="8.5">6</text></g>
<g id="n_r34"><text class="cr" transform="rotate(242.4793) translate(678) rotate(-242.4793)" x="4" y="8.5">34</text></g>
<g id="n_r9"><text class="cr" transform="rotate(233.6467) translate(497.2) rotate(-233.6467)" x="4" y="8.5">9</text></g>
<g id="n_s59"><text class="cs" transform="rotate(248.4298) translate(678) rotate(-248.4298)" x="4" y="8.5">59</text></g>
<g id="n_s7a"><text class="cs" transform="rotate(241.0382) translate(452) rotate(-241.0382)" x="4" y="8.5">7</text></g>
<g id="n_s100a"><text class="cs" transform="rotate(254.3802) translate(678) rotate(-254.3802)" x="4" y="8.5">100</text></g>
<g id="n_s52"><text class="cs" transform="rotate(256.6116) translate(632.8) rotate(-256.6116)" x="4" y="8.5">52</text></g>
<g id="n_s18a"><text class="cs" transform="rotate(259.2149) translate(587.6) rotate(-259.2149)" x="4" y="8.5">18</text></g>
<g id="n_s56"><text class="cs" transform="rotate(266.2810) translate(678) rotate(-266.2810)" x="4" y="8.5">56</text></g>
<g id="n_s30"><text class="cs" transform="rotate(268.5124) translate(632.8) rotate(-268.5124)" x="4" y="8.5">30</text></g>
<g id="n_s8a"><text class="cs" transform="rotate(263.8637) translate(542.4) rotate(-263.8637)" x="4" y="8.5">8</text></g>
<g id="n_s100b"><text class="cs" transform="rotate(275.2066) translate(678) rotate(-275.2066)" x="4" y="8.5">100</text></g>
<g id="n_s18b"><text class="cs" transform="rotate(277.4380) translate(632.8) rotate(-277.4380)" x="4" y="8.5">18</text></g>
<g id="n_s13"><text class="cs" transform="rotate(280.0413) translate(587.6) rotate(-280.0413)" x="4" y="8.5">13</text></g>
<g id="n_s8b"><text class="cs" transform="rotate(271.9525) translate(497.2) rotate(-271.9525)" x="4" y="8.5">8</text></g>
<g id="n_s12"><text class="cs" transform="rotate(278.7862) translate(452) rotate(-278.7862)" x="4" y="8.5">12</text></g>
<g id="n_s10"><text class="cs" transform="rotate(290.0826) translate(678) rotate(-290.0826)" x="4" y="8.5">10</text></g>
<g id="n_s6"><text class="cs" transform="rotate(284.4344) translate(406.8) rotate(-284.4344)" x="4" y="8.5">6</text></g>
<g id="n_s3"><text class="cs" transform="rotate(262.7363) translate(361.6) rotate(-262.7363)" x="4" y="8.5">3</text></g>
<g id="n_s2"><text class="cs" transform="rotate(199.3548) translate(135.6) rotate(-199.3548)" x="4" y="8.5">2</text></g>
<g id="n_s7b"><text class="cs" transform="rotate(264.7956) translate(90.4) rotate(-264.7956)" x="4" y="8.5">7</text></g>
<g id="n_s41"><text class="cs" transform="rotate(301.9846) translate(45.2) rotate(-301.9846)" x="4" y="8.5">41</text></g>
<g id="n_b100a"><text class="cb" transform="rotate(296.0331) translate(678) rotate(-296.0331)" x="4" y="8.5">100</text></g>
<g id="n_b98a"><text class="cb" transform="rotate(298.2645) translate(632.8) rotate(-298.2645)" x="4" y="8.5">98</text></g>
<g id="n_b98b"><text class="cb" transform="rotate(304.9587) translate(678) rotate(-304.9587)" x="4" y="8.5">98</text></g>
<g id="n_b98c"><text class="cb" transform="rotate(307.1901) translate(632.8) rotate(-307.1901)" x="4" y="8.5">98</text></g>
<g id="n_b78"><text class="cb" transform="rotate(302.7273) translate(587.6) rotate(-302.7273)" x="4" y="8.5">78</text></g>
<g id="n_b42"><text class="cb" transform="rotate(307.5620) translate(542.4) rotate(-307.5620)" x="4" y="8.5">42</text></g>
<g id="n_b84"><text class="cb" transform="rotate(316.8595) translate(678) rotate(-316.8595)" x="4" y="8.5">84</text></g>
<g id="n_b24"><text class="cb" transform="rotate(312.2108) translate(497.2) rotate(-312.2108)" x="4" y="8.5">24</text></g>
<g id="n_b44"><text class="cb" transform="rotate(316.7665) translate(452) rotate(-316.7665)" x="4" y="8.5">44</text></g>
<g id="n_b100b"><text class="cb" transform="rotate(325.7851) translate(678) rotate(-325.7851)" x="4" y="8.5">100</text></g>
<g id="n_b83"><text class="cb" transform="rotate(321.2758) translate(406.8) rotate(-321.2758)" x="4" y="8.5">83</text></g>
<g id="n_b35"><text class="cb" transform="rotate(325.7619) translate(361.6) rotate(-325.7619)" x="4" y="8.5">35</text></g>
<g id="n_b93"><text class="cb" transform="rotate(334.7107) translate(678) rotate(-334.7107)" x="4" y="8.5">93</text></g>
<g id="n_b29"><text class="cb" transform="rotate(330.2363) translate(316.4) rotate(-330.2363)" x="4" y="8.5">29</text></g>
</g>
<g id="legend">
<text x="1770" y="561" font-size="40" fill="#000000">group</text>
<g id="leg_WD"><line x1="1775" x2="1827" y1="618" y2="618" stroke="#E41A1C" stroke-width="4"/><text x="1801" y="626.5" font-size="22" text-anchor="middle" fill="#E41A1C">a</text><text x="1853" y="629" font-size="30">WD</text></g>
<g id="leg_SZS"><line x1="1775" x2="1827" y1="681.7" y2="681.7" stroke="#377EB8" stroke-width="4"/><text x="1801" y="690.2" font-size="22" text-anchor="middle" fill="#377EB8">a</text><text x="1853" y="692.7" font-size="30">SZS</text></g>
<g id="leg_MHG"><line x1="1775" x2="1827" y1="745.4" y2="745.4" stroke="#4DAF4A" stroke-width="4"/><text x="1801" y="753.9" font-size="22" text-anchor="middle" fill="#4DAF4A">a</text><text x="1853" y="756.4" font-size="30">MHG</text></g>
<g id="leg_WJM"><line x1="1775" x2="1827" y1="809.1" y2="809.1" stroke="#984EA3" stroke-width="4"/><text x="1801" y="817.6" font-size="22" text-anchor="middle" fill="#984EA3">a</text><text x="1853" y="820.1" font-size="30">WJM</text></g>
<g id="leg_QLS"><line x1="1775" x2="1827" y1="872.8" y2="872.8" stroke="#FF7F00" stroke-width="4"/><text x="1801" y="881.3" font-size="22" text-anchor="middle" fill="#FF7F00">a</text><text x="1853" y="883.8" font-size="30">QLS</text></g>
<g id="leg_TST"><line x1="1775" x2="1827" y1="936.5" y2="936.5" stroke="#A65628" stroke-width="4"/><text x="1801" y="945" font-size="22" text-anchor="middle" fill="#A65628">a</text><text x="1853" y="947.5" font-size="30">TST</text></g>
<g id="leg_HN"><line x1="1775" x2="1827" y1="1000.2" y2="1000.2" stroke="#F781BF" stroke-width="4"/><text x="1801" y="1008.7" font-size="22" text-anchor="middle" fill="#F781BF">a</text><text x="1853" y="1011.2" font-size="30">HN</text></g>
<g id="leg_SDQZ"><line x1="1775" x2="1827" y1="1063.9" y2="1063.9" stroke="#999999" stroke-width="4"/><text x="1801" y="1072.4" font-size="22" text-anchor="middle" fill="#999999">a</text><text x="1853" y="1074.9" font-size="30">SDQZ</text></g>
</g>
</svg>
